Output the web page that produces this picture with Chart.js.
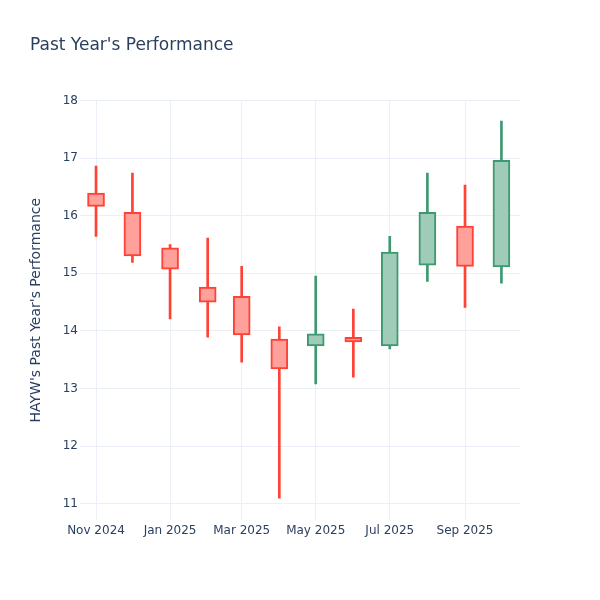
<!DOCTYPE html>
<html>
<head>
<meta charset="utf-8">
<script src="https://cdn.jsdelivr.net/npm/chart.js@4.4.1/dist/chart.umd.min.js"></script>
<style>
  body { margin: 0; background: #fff; }
  #wrap { width: 600px; height: 600px; }
</style>
</head>
<body>
<div id="wrap"><canvas id="chart" width="600" height="600"></canvas></div>
<script>
// monthly candles, HAYW
const dates = ['2024-11-01', '2024-12-01', '2025-01-01', '2025-02-01', '2025-03-01', '2025-04-01',
               '2025-05-01', '2025-06-01', '2025-07-01', '2025-08-01', '2025-09-01', '2025-10-01'];
const opens  = [16.39, 16.06, 15.44, 14.76, 14.60, 13.86, 13.74, 13.89, 13.74, 15.14, 15.82, 15.11];
const highs  = [16.86, 16.74, 15.50, 15.61, 15.12, 14.07, 14.95, 14.38, 15.64, 16.74, 16.53, 17.64];
const lows   = [15.64, 15.19, 14.21, 13.89, 13.46, 11.10, 13.08, 13.20, 13.69, 14.86, 14.41, 14.83];
const closes = [16.16, 15.30, 15.07, 14.50, 13.93, 13.34, 13.95, 13.81, 15.37, 16.06, 15.12, 16.96];

const tickDates  = ['2024-11-01', '2025-01-01', '2025-03-01', '2025-05-01', '2025-07-01', '2025-09-01'];
const tickLabels = ['Nov 2024', 'Jan 2025', 'Mar 2025', 'May 2025', 'Jul 2025', 'Sep 2025'];
const yTicks = [11, 12, 13, 14, 15, 16, 17, 18];

const toMs = d => Date.parse(d + 'T00:00:00Z');
const DAY = 86400000;

const UP_LINE = '#3D9970', UP_FILL = '#9ECCB8';
const DOWN_LINE = '#FF4136', DOWN_FILL = '#FFA09B';
const TEXT = '#2a3f5f', GRID = '#EBF0F8';

const isUp = closes.map((c, i) => c >= opens[i]);
const lineColors = isUp.map(u => u ? UP_LINE : DOWN_LINE);
const fillColors = isUp.map(u => u ? UP_FILL : DOWN_FILL);

const wickData = dates.map((d, i) => ({ x: toMs(d), y: [lows[i], highs[i]] }));
const bodyData = dates.map((d, i) => ({ x: toMs(d), y: [opens[i], closes[i]] }));

const tickValues = tickDates.map(toMs);

new Chart(document.getElementById('chart'), {
    type: 'bar',
    data: {
        datasets: [
            {
                label: 'body',
                data: bodyData,
                backgroundColor: fillColors,
                borderColor: lineColors,
                borderWidth: 2,
                borderSkipped: false,
                barThickness: 17,
                grouped: false,
                order: 0
            },
            {
                label: 'wick',
                data: wickData,
                backgroundColor: lineColors,
                borderWidth: 0,
                barThickness: 2,
                grouped: false,
                order: 1
            }
        ]
    },
    options: {
        responsive: false,
        animation: false,
        layout: { padding: { left: 30, right: 80, top: 0, bottom: 50 } },
        plugins: {
            legend: { display: false },
            tooltip: { enabled: false },
            title: {
                display: true,
                text: "Past Year's Performance",
                align: 'start',
                color: TEXT,
                font: { family: 'DejaVu Sans', size: 17, weight: 'normal' },
                padding: { top: 35, bottom: 45 }
            }
        },
        scales: {
            x: {
                type: 'linear',
                offset: false,
                min: toMs('2024-11-01') - 13.2 * DAY,
                max: toMs('2024-11-01') + 349.3 * DAY,
                grid: { color: GRID, drawTicks: false, offset: false },
                border: { display: false },
                afterBuildTicks: s => { s.ticks = tickValues.map(v => ({ value: v })); },
                afterFit: s => { s.height = 30; },
                ticks: {
                    color: TEXT,
                    padding: 4,
                    maxRotation: 0,
                    autoSkip: false,
                    font: { family: 'DejaVu Sans', size: 12 },
                    callback: v => tickLabels[tickValues.indexOf(v)] || ''
                }
            },
            y: {
                min: 10.72,
                max: 18.0,
                grid: { color: GRID, drawTicks: false },
                border: { display: false },
                afterBuildTicks: s => { s.ticks = yTicks.map(v => ({ value: v })); },
                afterFit: s => { s.width = 50; },
                title: {
                    display: true,
                    text: "HAYW's Past Year's Performance",
                    color: TEXT,
                    font: { family: 'DejaVu Sans', size: 14 },
                    padding: { top: -2, bottom: 0 }
                },
                ticks: {
                    color: TEXT,
                    padding: 2,
                    font: { family: 'DejaVu Sans', size: 12 }
                }
            }
        }
    }
});
</script>
</body>
</html>
